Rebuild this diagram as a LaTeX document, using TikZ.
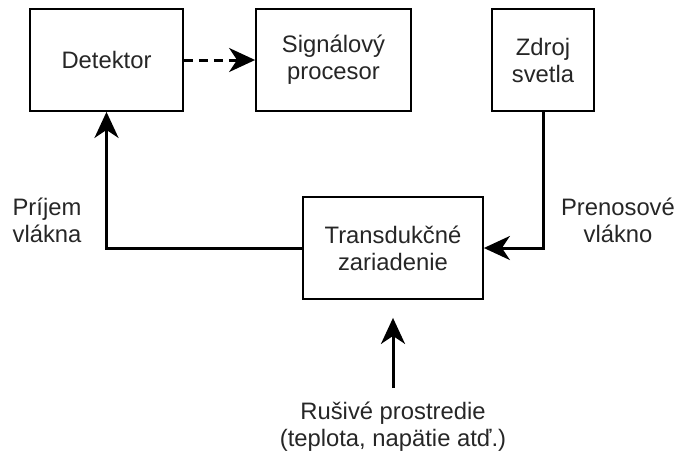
\documentclass[tikz,border=0pt]{standalone}
\usepackage{fontspec}
\setmainfont{Liberation Sans}
\usetikzlibrary{arrows.meta}
\begin{document}
\begin{tikzpicture}[x=1pt,y=-1pt,
  every node/.style={font=\fontsize{23.8}{27}\selectfont, text=black!85},
  box/.style={draw=black, line width=1.8pt, fill=white, align=center, inner sep=0pt},
  lbl/.style={align=center, inner sep=0pt},
  arr/.style={line width=3pt, line join=miter, -{Stealth[length=26pt,width=24pt,inset=8pt]}},
  darr/.style={arr, dash pattern=on 9pt off 6pt}
]
\useasboundingbox (0,0) rectangle (678,459);
\node[box, minimum width=153pt, minimum height=102pt] (det) at (106.5,60) {Detektor};
\node[box, minimum width=155pt, minimum height=102pt] (sig) at (333.5,60) {Signálový\\procesor};
\node[box, minimum width=102pt, minimum height=102pt] (zdr) at (543,60) {Zdroj\\svetla};
\node[box, minimum width=180pt, minimum height=102pt] (tra) at (393,248) {Transdukčné\\zariadenie};
\node[lbl] (pri) at (47,220) {Príjem\\vlákna};
\node[lbl] (pre) at (618,220) {Prenosové\\vlákno};
\node[lbl] (rus) at (393,427) {Rušivé prostredie\\(teplota, napätie atď.)};
\draw[darr] (det.east) -- (sig.west);
\draw[arr] (tra.west) -| (det.south);
\draw[arr] (zdr.south) |- (tra.east);
\draw[arr, shorten >=18pt, shorten <=14pt] (rus.north) -- (tra.south);
\end{tikzpicture}
\end{document}
